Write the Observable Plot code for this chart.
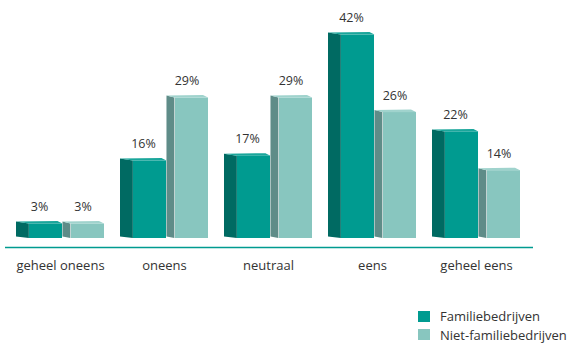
<!DOCTYPE html>
<html><head><meta charset="utf-8">
<script src="https://cdn.jsdelivr.net/npm/d3@7"></script>
<script src="https://cdn.jsdelivr.net/npm/@observablehq/plot@0.6"></script>
<style>
body{margin:0;background:#fff;font-family:"Open Sans",sans-serif;}
#wrap{position:relative;width:568px;height:343px;overflow:hidden;}
#legend{position:absolute;left:418px;top:307px;font-size:13px;color:#333;}
.item{display:flex;align-items:center;height:18.5px;}
.sw{width:12px;height:11px;margin-right:10px;}
</style></head><body><div id="wrap"><div id="chart"></div><div id="legend"></div></div>
<script>
const categories = ["geheel oneens", "oneens", "neutraal", "eens", "geheel eens"];
const series = ["Familiebedrijven", "Niet-familiebedrijven"];
const familie = [3, 16, 17, 42, 22];
const nietFamilie = [3, 29, 29, 26, 14];

const frontColors = ["#009b90", "#88c6bf"];
const sideColors = ["#006a62", "#5f8c88"];
const topColors = ["#1aa69b", "#a0d3cd"];

const rows = categories.flatMap((c, i) => [
  {category: c, series: series[0], value: familie[i]},
  {category: c, series: series[1], value: nietFamilie[i]}
]);
const fam = rows.filter(d => d.series === series[0]);
const niet = rows.filter(d => d.series === series[1]);

// 3D faces (side + top), drawn with the plot's own scales
const faceSpecs = [
  {data: familie, s0: 0, s1: 13 / 89, f1: 47 / 89, k: 0},
  {data: nietFamilie, s0: 47 / 89, s1: 55 / 89, f1: 1, k: 1}
];
function faces(index, scales) {
  const x = scales.x, y = scales.y;
  const bw = x.bandwidth();
  const y0 = y(0);
  const g = d3.create("svg:g");
  categories.forEach((c, i) => {
    const gx = x(c);
    for (const sp of faceSpecs) {
      const yt = y(sp.data[i]);
      const a = gx + sp.s0 * bw, b = gx + sp.s1 * bw, e = gx + sp.f1 * bw;
      g.append("polygon")
        .attr("points", [[a, yt - 2], [b, yt], [b, y0], [a, y0 - 1.5]].map(p => p.join(",")).join(" "))
        .attr("fill", sideColors[sp.k]);
      g.append("polygon")
        .attr("points", [[a, yt - 2], [b, yt], [e, yt], [e - 5, yt - 2.5]].map(p => p.join(",")).join(" "))
        .attr("fill", topColors[sp.k]);
    }
  });
  return g.node();
}

const chart = Plot.plot({
  width: 568,
  height: 300,
  marginLeft: 15,
  marginRight: 46,
  marginTop: 20,
  marginBottom: 62,
  style: {fontFamily: "'Open Sans', sans-serif", fontSize: "13px", color: "#333", background: "#fff"},
  x: {domain: categories, paddingInner: 0.15, paddingOuter: 0, align: 0.5, tickSize: 0, tickPadding: 22, label: null},
  y: {domain: [0, 45], axis: null},
  marks: [
    Plot.barY(fam, {x: "category", y: "value", fill: frontColors[0], insetLeft: 13, insetRight: 42}),
    Plot.barY(niet, {x: "category", y: "value", fill: frontColors[1], insetLeft: 55, insetRight: 0}),
    faces,
    Plot.ruleY([0], {dy: 9, stroke: frontColors[0], strokeWidth: 1.5, insetLeft: -10, insetRight: -11}),
    Plot.text(fam, {x: "category", y: "value", text: d => d.value + "%", dx: -21, dy: -17, fontSize: 12.5, fill: "#333"}),
    Plot.text(niet, {x: "category", y: "value", text: d => d.value + "%", dx: 22.5, dy: -17, fontSize: 12.5, fill: "#333"})
  ]
});
document.getElementById("chart").appendChild(chart);

const legend = document.getElementById("legend");
series.forEach((s, k) => {
  const item = document.createElement("div");
  item.className = "item";
  const sw = document.createElement("span");
  sw.className = "sw";
  sw.style.background = frontColors[k];
  const lab = document.createElement("span");
  lab.textContent = s;
  item.appendChild(sw);
  item.appendChild(lab);
  legend.appendChild(item);
});
</script></body></html>
